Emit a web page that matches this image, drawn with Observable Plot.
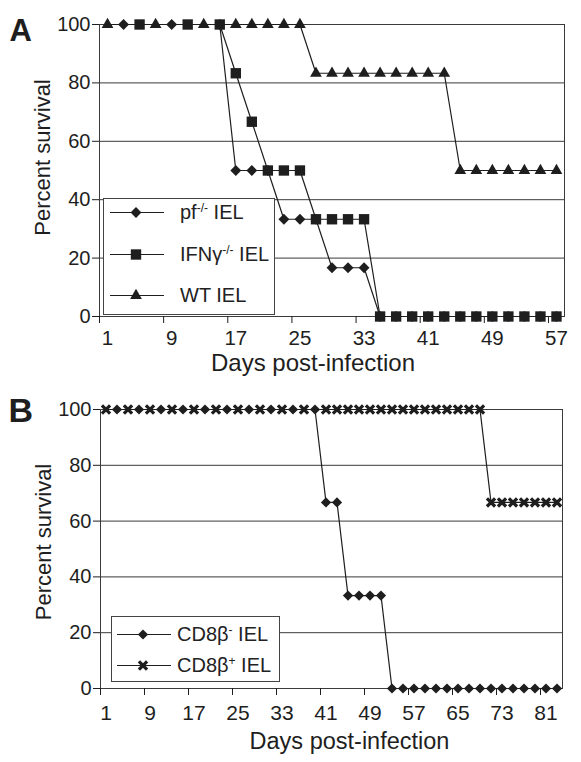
<!DOCTYPE html>
<html><head><meta charset="utf-8">
<script src="https://cdn.jsdelivr.net/npm/d3@7"></script>
<script src="https://cdn.jsdelivr.net/npm/@observablehq/plot@0.6"></script>
<style>
html,body{margin:0;padding:0;background:#fff;overflow:hidden;width:581px;height:762px}
#wrap{position:relative;width:581px;height:762px;font-family:"Liberation Sans",Arial,Helvetica,sans-serif;color:#222}
#wrap svg{display:block}
.legend{position:absolute;background:#fff;border:1px solid #444;box-sizing:border-box}
.legend .lab{position:absolute;font-size:20px;line-height:1;white-space:nowrap;transform:translateY(-50%)}
.legend .sup{font-size:0.6em;position:relative;top:-0.6em}
</style></head>
<body><div id="wrap"><div id="a"></div><div id="b"></div></div>
<script>
// ---------- Panel A data ----------
const pfDays      = [3, 9, 15, 17, 19, 21, 23, 25, 27, 29, 31, 33, 35, 37, 39, 41, 43, 45, 47, 49, 51, 53, 55, 57];
const pfSurvival  = [100, 100, 100, 50, 50, 50, 33.3, 33.3, 33.3, 16.7, 16.7, 16.7, 0, 0, 0, 0, 0, 0, 0, 0, 0, 0, 0, 0];
const ifnDays     = [5, 11, 15, 17, 19, 21, 23, 25, 27, 29, 31, 33, 35, 37, 39, 41, 43, 45, 47, 49, 51, 53, 55, 57];
const ifnSurvival = [100, 100, 100, 83.3, 66.7, 50, 50, 50, 33.3, 33.3, 33.3, 33.3, 0, 0, 0, 0, 0, 0, 0, 0, 0, 0, 0, 0];
const wtDays      = [1, 7, 13, 17, 19, 21, 23, 25, 27, 29, 31, 33, 35, 37, 39, 41, 43, 45, 47, 49, 51, 53, 55, 57];
const wtSurvival  = [100, 100, 100, 100, 100, 100, 100, 100, 83.3, 83.3, 83.3, 83.3, 83.3, 83.3, 83.3, 83.3, 83.3, 50, 50, 50, 50, 50, 50, 50];
const tickMarksA  = [0, 8, 16, 24, 32, 40, 48, 56];
const tickLabelsA = [1, 9, 17, 25, 33, 41, 49, 57];

// ---------- Panel B data ----------
const negDays     = [3, 7, 11, 15, 19, 23, 27, 31, 35, 39, 41, 43, 45, 47, 49, 51, 53, 55, 57, 59, 61, 63, 65, 67, 69, 71, 73, 75, 77, 79, 81, 83];
const negSurvival = [100, 100, 100, 100, 100, 100, 100, 100, 100, 100, 66.7, 66.7, 33.3, 33.3, 33.3, 33.3, 0, 0, 0, 0, 0, 0, 0, 0, 0, 0, 0, 0, 0, 0, 0, 0];
const posDays     = [1, 5, 9, 13, 17, 21, 25, 29, 33, 37, 41, 43, 45, 47, 49, 51, 53, 55, 57, 59, 61, 63, 65, 67, 69, 71, 73, 75, 77, 79, 81, 83];
const posSurvival = [100, 100, 100, 100, 100, 100, 100, 100, 100, 100, 100, 100, 100, 100, 100, 100, 100, 100, 100, 100, 100, 100, 100, 100, 100, 66.7, 66.7, 66.7, 66.7, 66.7, 66.7, 66.7];
const tickMarksB  = [0, 8, 16, 24, 32, 40, 48, 56, 64, 72, 80];
const tickLabelsB = [1, 9, 17, 25, 33, 41, 49, 57, 65, 73, 81];

const yTicks = [0, 20, 40, 60, 80, 100];
const seriesA = ["pf-/- IEL", "IFN\u03b3-/- IEL", "WT IEL"];
const seriesB = ["CD8\u03b2- IEL", "CD8\u03b2+ IEL"];

const ink = "#1e1e1e";
const rule = "#3a3a3a";
const font = '"Liberation Sans", Arial, Helvetica, sans-serif';
const rows = (days, vals, s) => days.map((d, i) => ({day: d, pct: vals[i], series: s}));

const pf = rows(pfDays, pfSurvival, seriesA[0]);
const ifn = rows(ifnDays, ifnSurvival, seriesA[1]);
const wt = rows(wtDays, wtSurvival, seriesA[2]);
const neg = rows(negDays, negSurvival, seriesB[0]);
const pos = rows(posDays, posSurvival, seriesB[1]);

const sym = {diamond: {symbol: "diamond2", r: 4.9}, square: {symbol: "square2", r: 6.6}, triangle: {symbol: "triangle2", r: 5.6}};
const T = {textAnchor: "middle", lineAnchor: "middle", fill: ink};

const plotA = Plot.plot({
  width: 581, height: 380,
  marginLeft: 99, marginRight: 17, marginTop: 24, marginBottom: 64,
  x: {domain: [0, 58]},
  y: {domain: [0, 100]},
  style: {fontFamily: font, fontSize: "20px", color: ink, background: "transparent", overflow: "visible"},
  marks: [
    Plot.gridY(yTicks, {stroke: rule, strokeOpacity: 1}),
    Plot.frame({stroke: rule}),
    Plot.axisY(yTicks, {tickSize: 7, tickPadding: 2, label: null, fontSize: 20}),
    Plot.axisX(tickMarksA, {tickSize: 7, tickFormat: () => "", label: null}),
    Plot.axisX(tickLabelsA, {tickSize: 0, tickPadding: 14, label: null, fontSize: 20.5}),
    Plot.line(pf, {x: "day", y: "pct", stroke: ink, strokeWidth: 1.2}),
    Plot.line(ifn, {x: "day", y: "pct", stroke: ink, strokeWidth: 1.2}),
    Plot.line(wt, {x: "day", y: "pct", stroke: ink, strokeWidth: 1.2}),
    Plot.dot(pf, {x: "day", y: "pct", symbol: sym.diamond.symbol, r: sym.diamond.r, fill: ink}),
    Plot.dot(ifn, {x: "day", y: "pct", symbol: sym.square.symbol, r: sym.square.r, fill: ink}),
    Plot.dot(wt, {x: "day", y: "pct", symbol: sym.triangle.symbol, r: sym.triangle.r, fill: ink}),
    Plot.text(["A"], {...T, frameAnchor: "top-left", textAnchor: "start", dx: -90, dy: 7, fontSize: 31, fontWeight: "bold"}),
    Plot.text(["Percent survival"], {...T, frameAnchor: "left", rotate: -90, dx: -57, dy: -13, fontSize: 22}),
    Plot.text(["Days post-infection"], {...T, frameAnchor: "bottom", dx: -19, dy: 47, fontSize: 24})
  ]
});

const plotB = Plot.plot({
  width: 581, height: 382,
  marginLeft: 100, marginRight: 19, marginTop: 29, marginBottom: 74,
  x: {domain: [0, 84]},
  y: {domain: [0, 100]},
  style: {fontFamily: font, fontSize: "20px", color: ink, background: "transparent", overflow: "visible"},
  marks: [
    Plot.gridY(yTicks, {stroke: rule, strokeOpacity: 1}),
    Plot.frame({stroke: rule}),
    Plot.axisY(yTicks, {tickSize: 7, tickPadding: 2, label: null, fontSize: 20}),
    Plot.axisX(tickMarksB, {tickSize: 7, tickFormat: () => "", label: null}),
    Plot.axisX(tickLabelsB, {tickSize: 0, tickPadding: 17, label: null, fontSize: 21}),
    Plot.line(neg, {x: "day", y: "pct", stroke: ink, strokeWidth: 1.2}),
    Plot.line(pos, {x: "day", y: "pct", stroke: ink, strokeWidth: 1.2}),
    Plot.dot(neg, {x: "day", y: "pct", symbol: "diamond2", r: 4.6, fill: ink}),
    Plot.dot(pos, {x: "day", y: "pct", symbol: "times", r: 3.8, stroke: ink, strokeWidth: 3.2}),
    Plot.text(["B"], {...T, frameAnchor: "top-left", textAnchor: "start", dx: -92, dy: 2, fontSize: 34, fontWeight: "bold"}),
    Plot.text(["Percent survival"], {...T, frameAnchor: "left", rotate: -90, dx: -57, dy: -7, fontSize: 22}),
    Plot.text(["Days post-infection"], {...T, frameAnchor: "bottom", dx: 18, dy: 53, fontSize: 23.5})
  ]
});

document.getElementById("a").appendChild(plotA);
document.getElementById("b").appendChild(plotB);

// ---------- legends ----------
function supLabel(name) {
  const m = name.match(/^(.*?)([-+](?:\/-)?)( IEL)$/);
  return m ? `${m[1]}<span class="sup">${m[2]}</span>${m[3]}` : name;
}
function legend(box, items) {
  const div = d3.select("#wrap").append("div").attr("class", "legend")
    .style("left", box.left + "px").style("top", box.top + "px")
    .style("width", box.width + "px").style("height", box.height + "px");
  items.forEach(it => {
    const svg = div.append("svg").style("position", "absolute")
      .style("left", box.lineX + "px").style("top", (it.y - 12) + "px")
      .attr("width", box.lineLen).attr("height", 24);
    svg.append("line").attr("x1", 0).attr("x2", box.lineLen).attr("y1", 12.5).attr("y2", 12.5)
      .attr("stroke", ink).attr("stroke-width", 1.2);
    const shape = {diamond2: d3.symbolDiamond2, square2: d3.symbolSquare2, triangle2: d3.symbolTriangle2, times: d3.symbolTimes}[it.symbol];
    const p = svg.append("path").attr("transform", `translate(${box.markX},12.5)`)
      .attr("d", d3.symbol(shape, Math.PI * it.r * it.r)());
    if (it.symbol === "times") p.attr("fill", "none").attr("stroke", ink).attr("stroke-width", 3.2);
    else p.attr("fill", ink);
    div.append("div").attr("class", "lab").style("left", box.textX + "px").style("top", it.y + "px")
      .html(supLabel(it.name));
  });
}
legend({left: 103, top: 198, width: 172, height: 117, lineX: 6, lineLen: 54, markX: 26, textX: 76}, [
  {name: seriesA[0], symbol: sym.diamond.symbol, r: sym.diamond.r, y: 13},
  {name: seriesA[1], symbol: sym.square.symbol, r: sym.square.r, y: 55},
  {name: seriesA[2], symbol: sym.triangle.symbol, r: sym.triangle.r, y: 96}
]);
legend({left: 111, top: 616, width: 169, height: 66, lineX: 5, lineLen: 54, markX: 26, textX: 65}, [
  {name: seriesB[0], symbol: "diamond2", r: 4.6, y: 17},
  {name: seriesB[1], symbol: "times", r: 3.8, y: 48}
]);
</script>
</body></html>
